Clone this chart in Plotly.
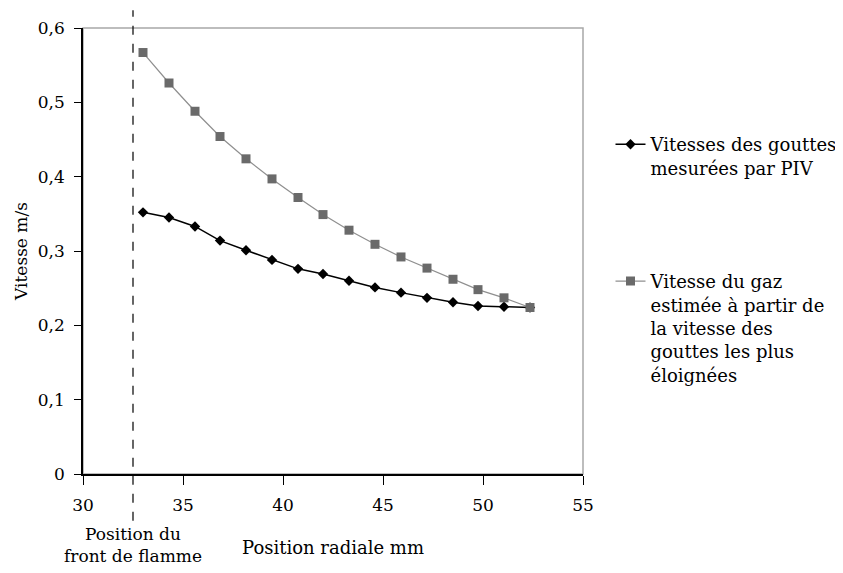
import plotly.graph_objects as go

# ── Data ─────────────────────────────────────────────────────────────────────

POSITION_MM = [33.0, 34.3, 35.6, 36.85, 38.15, 39.45, 40.75, 42.0,
               43.3, 44.6, 45.9, 47.2, 48.5, 49.75, 51.05, 52.35]

GOUTTES_PIV = [0.352, 0.345, 0.333, 0.314, 0.301, 0.288, 0.276, 0.269,
               0.260, 0.251, 0.244, 0.237, 0.231, 0.226, 0.225, 0.224]

GAZ_ESTIME = [0.567, 0.526, 0.488, 0.454, 0.424, 0.397, 0.372, 0.349,
              0.328, 0.309, 0.292, 0.277, 0.262, 0.248, 0.237, 0.224]

FRONT_FLAMME_MM = 32.5
X_RANGE = [30, 55]
Y_RANGE = [0, 0.6]

NAME_PIV = "Vitesses des gouttes<br>mesurées par PIV"
NAME_GAZ = ("Vitesse du gaz<br>estimée à partir de<br>la vitesse des<br>"
            "gouttes les plus<br>éloignées")

# ── Style ────────────────────────────────────────────────────────────────────

FONT = "DejaVu Serif"
BLACK = "#000000"
GREY_LINE = "#8f8f8f"
GREY_MARK = "#6a6a6a"
FRAME = "#a8a8a8"

fig = go.Figure()

fig.add_trace(
    go.Scatter(
        x=POSITION_MM,
        y=GOUTTES_PIV,
        mode="lines+markers",
        name=NAME_PIV,
        legendgroup="piv",
        line=dict(color=BLACK, width=1.5),
        marker=dict(symbol="diamond", size=8, color=BLACK),
    )
)
fig.add_trace(
    go.Scatter(
        x=POSITION_MM,
        y=GAZ_ESTIME,
        mode="lines+markers",
        name=NAME_GAZ,
        legendgroup="gaz",
        line=dict(color=GREY_LINE, width=1.2),
        marker=dict(symbol="square", size=9, color=GREY_MARK),
    )
)

# flame front position, as a fraction of the x axis
front_frac = (FRONT_FLAMME_MM - X_RANGE[0]) / (X_RANGE[1] - X_RANGE[0])

fig.add_shape(
    type="rect", xref="paper", yref="paper", x0=0, x1=1, y0=0, y1=1,
    line=dict(color=FRAME, width=1.5), layer="below",
)
fig.add_shape(
    type="line", xref="paper", yref="paper",
    x0=front_frac, x1=front_frac, y0=-0.105, y1=1.04,
    line=dict(color=BLACK, width=1.2, dash="dash"),
)
fig.add_annotation(
    x=FRONT_FLAMME_MM, xref="x", y=-0.108, yref="paper",
    yanchor="top", xanchor="center", showarrow=False,
    text="Position du<br>front de flamme", align="center",
    font=dict(family=FONT, size=17, color=BLACK),
)

# the page adds an 8px body margin, so the figure is 8px larger than the view
fig.update_layout(
    width=851,
    height=581,
    paper_bgcolor="white",
    plot_bgcolor="white",
    separators=", ",
    font=dict(family=FONT, size=17, color=BLACK),
    margin=dict(l=75, r=276, t=20, b=115),
    showlegend=True,
    legend=dict(
        x=1.055, xanchor="left", y=0.78, yanchor="top",
        traceorder="grouped", tracegroupgap=87, valign="top",
        font=dict(family=FONT, size=18, color=BLACK),
        bgcolor="rgba(0,0,0,0)",
    ),
)

fig.update_xaxes(
    range=X_RANGE, dtick=5, showgrid=False, zeroline=False,
    showline=True, linecolor=BLACK, linewidth=1.5,
    ticks="outside", ticklen=9, tickcolor=BLACK, ticklabelstandoff=6,
    automargin=False,
    title=dict(text="Position radiale mm", standoff=27,
               font=dict(family=FONT, size=18)),
)
fig.update_yaxes(
    range=Y_RANGE, dtick=0.1, showgrid=False, zeroline=False,
    showline=True, linecolor=BLACK, linewidth=1.5,
    ticks="outside", ticklen=7, tickcolor=BLACK, ticklabelstandoff=6,
    automargin=False,
    title=dict(text="Vitesse m/s", standoff=6,
               font=dict(family=FONT, size=17)),
)

fig.write_html("out.html")
